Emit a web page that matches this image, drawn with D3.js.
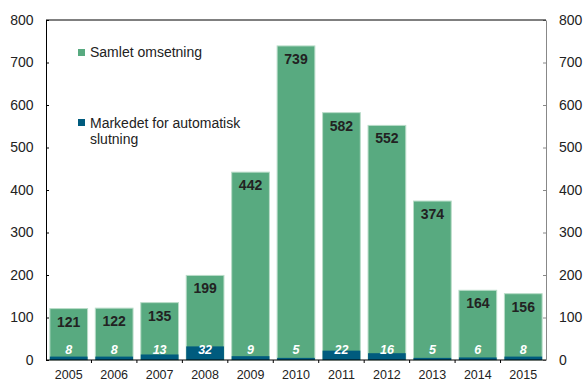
<!DOCTYPE html>
<html>
<head>
<meta charset="utf-8">
<script src="https://cdn.jsdelivr.net/npm/d3@7"></script>
<style>
  body { margin: 0; background: #fff; }
  text { font-family: "Liberation Sans", Arial, sans-serif; }
</style>
</head>
<body>
<svg id="chart" width="584" height="380"></svg>
<script>
var years = ["2005","2006","2007","2008","2009","2010","2011","2012","2013","2014","2015"];
var totalValues = [121,122,135,199,442,739,582,552,374,164,156];
var autoValues = [8,8,13,32,9,5,22,16,5,6,8];
var yTicks = [0,100,200,300,400,500,600,700,800];

var green = "#58aa80";
var blue = "#005b7e";

var svg = d3.select("#chart");
var margin = {left: 46, right: 38, top: 20, bottom: 20};
var width = 584 - margin.left - margin.right;
var height = 380 - margin.top - margin.bottom;

var g = svg.append("g").attr("transform", "translate(" + margin.left + "," + margin.top + ")");

var x = d3.scaleBand().domain(years).range([0, width]).paddingInner(0.17).paddingOuter(0.085);
var y = d3.scaleLinear().domain([0, 800]).range([height, 0]);

// total bars
g.selectAll(".total")
    .data(totalValues)
    .enter()
    .append("rect")
    .attr("class", "total")
    .attr("x", function(d, i){ return x(years[i]); })
    .attr("y", function(d){ return y(d); })
    .attr("width", x.bandwidth())
    .attr("height", function(d){ return height - y(d); })
    .attr("fill", green)
    .attr("stroke", "#b9dcc8")
    .attr("stroke-width", 1);

// automatic bars
g.selectAll(".auto")
    .data(autoValues)
    .enter()
    .append("rect")
    .attr("class", "auto")
    .attr("x", function(d, i){ return x(years[i]); })
    .attr("y", function(d){ return y(d); })
    .attr("width", x.bandwidth())
    .attr("height", function(d){ return height - y(d); })
    .attr("fill", blue);

// labels
g.selectAll(".totalLabel")
    .data(totalValues)
    .enter()
    .append("text")
    .attr("x", function(d, i){ return x(years[i]) + x.bandwidth() / 2; })
    .attr("y", function(d){ return y(d) + 18; })
    .attr("text-anchor", "middle")
    .attr("font-size", 14)
    .attr("font-weight", "bold")
    .attr("fill", "#222")
    .text(function(d){ return d; });

g.selectAll(".autoLabel")
    .data(autoValues)
    .enter()
    .append("text")
    .attr("x", function(d, i){ return x(years[i]) + x.bandwidth() / 2; })
    .attr("y", height - 6)
    .attr("text-anchor", "middle")
    .attr("font-size", 12.5)
    .attr("font-weight", "bold")
    .attr("font-style", "italic")
    .attr("fill", "#fff")
    .text(function(d){ return d; });

// axes
var leftAxis = d3.axisLeft(y).tickValues(yTicks).tickSizeInner(-3).tickSizeOuter(0).tickPadding(12.5);
var la = g.append("g").call(leftAxis);
la.select(".domain").attr("stroke", "#000");
la.selectAll("line").attr("stroke", "#000");
la.selectAll("text").attr("font-size", 14).attr("fill", "#222").attr("font-family", "Liberation Sans, Arial, sans-serif");

var rightAxis = d3.axisRight(y).tickValues(yTicks).tickSizeInner(-3).tickSizeOuter(0).tickPadding(13);
var ra = g.append("g").attr("transform", "translate(" + width + ",0)").call(rightAxis);
ra.select(".domain").attr("stroke", "#888");
ra.selectAll("line").attr("stroke", "#888");
ra.selectAll("text").attr("font-size", 14).attr("fill", "#222").attr("font-family", "Liberation Sans, Arial, sans-serif");

// top border
g.append("line").attr("x1", 0).attr("x2", width).attr("y1", 0).attr("y2", 0).attr("stroke", "#000");

// bottom axis with ticks between bars
var bottom = g.append("g").attr("transform", "translate(0," + height + ")");
bottom.append("line").attr("x1", 0).attr("x2", width).attr("stroke", "#000");
bottom.selectAll(".sep")
    .data(years.slice(1))
    .enter()
    .append("line")
    .attr("x1", function(d){ return x(d) - x.step() * x.paddingInner() / 2; })
    .attr("x2", function(d){ return x(d) - x.step() * x.paddingInner() / 2; })
    .attr("y1", 0).attr("y2", 3)
    .attr("stroke", "#000");
bottom.selectAll(".year")
    .data(years)
    .enter()
    .append("text")
    .attr("x", function(d){ return x(d) + x.bandwidth() / 2; })
    .attr("y", 18.5)
    .attr("text-anchor", "middle")
    .attr("font-size", 12.5)
    .attr("fill", "#222")
    .text(function(d){ return d; });

// legend
var legend = svg.append("g");
legend.append("rect").attr("x", 78).attr("y", 49).attr("width", 7).attr("height", 7).attr("fill", green);
legend.append("text").attr("x", 90).attr("y", 57).attr("font-size", 14).attr("fill", "#222").text("Samlet omsetning");
legend.append("rect").attr("x", 78).attr("y", 119).attr("width", 7).attr("height", 7).attr("fill", blue);
legend.append("text").attr("x", 90).attr("y", 127.5).attr("font-size", 14).attr("fill", "#222").text("Markedet for automatisk");
legend.append("text").attr("x", 90).attr("y", 143.5).attr("font-size", 14).attr("fill", "#222").text("slutning");
</script>
</body>
</html>
